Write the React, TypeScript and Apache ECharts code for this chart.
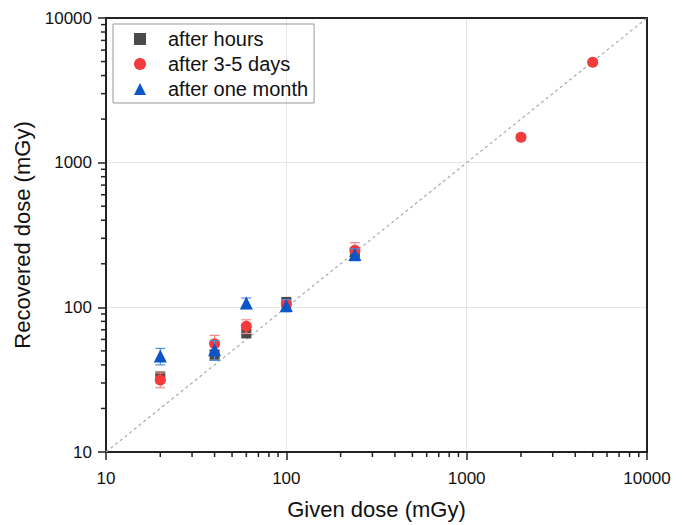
import React, { useEffect, useRef } from "react";
import * as echarts from "echarts";

// ---- data ----
const hoursX = [20, 40, 60, 100, 240];
const hoursY = [33, 47, 66, 109, 240];
const hoursErr = [3, 4, 4, 5, 15];

const daysX = [20, 40, 60, 100, 240, 2000, 5000];
const daysY = [31.5, 56, 74, 105, 248, 1500, 4950];
const daysErr = [3.7, 8, 8, 6, 32, 60, 150];

const monthX = [20, 40, 60, 100, 240];
const monthY = [46, 51, 107, 103, 232];
const monthErr = [6, 8, 9, 10, 22];

const minorTicks = [
  20, 30, 40, 50, 60, 70, 80, 90,
  200, 300, 400, 500, 600, 700, 800, 900,
  2000, 3000, 4000, 5000, 6000, 7000, 8000, 9000,
];

const seriesNames = ["after hours", "after 3-5 days", "after one month"];

const FONT = "'Liberation Sans', Arial, sans-serif";
const AXIS_MIN = 10;

function zip3(xs: number[], ys: number[], es: number[]) {
  return xs.map((x, i) => [x, ys[i], es[i]]);
}

function errorBar(color: string, data: number[][], z: number) {
  return {
    type: "custom",
    z,
    silent: true,
    data,
    encode: { x: 0, y: 1 },
    renderItem: (params: any, api: any) => {
      const x = api.value(0);
      const y = api.value(1);
      const e = api.value(2);
      const top = api.coord([x, y + e]);
      const bot = api.coord([x, y - e]);
      const w = 5;
      const st = { stroke: color, lineWidth: 1.2 };
      return {
        type: "group",
        children: [
          { type: "line", shape: { x1: top[0], y1: top[1], x2: bot[0], y2: bot[1] }, style: st },
          { type: "line", shape: { x1: top[0] - w, y1: top[1], x2: top[0] + w, y2: top[1] }, style: st },
          { type: "line", shape: { x1: bot[0] - w, y1: bot[1], x2: bot[0] + w, y2: bot[1] }, style: st },
        ],
      };
    },
  };
}

// minor ticks (outward) on the bottom and left axes, placed through the axis scales
function minorTickSeries(color: string) {
  return {
    type: "custom",
    z: 10,
    clip: false,
    data: minorTicks.map((v) => [v, v]),
    encode: { x: 0, y: 1 },
    renderItem: (params: any, api: any) => {
      const v = api.value(0);
      const px = api.coord([v, AXIS_MIN]);
      const py = api.coord([AXIS_MIN, v]);
      const L = 5;
      const st = { stroke: color, lineWidth: 1.5 };
      return {
        type: "group",
        children: [
          { type: "line", shape: { x1: px[0], y1: px[1], x2: px[0], y2: px[1] + L }, style: st },
          { type: "line", shape: { x1: py[0], y1: py[1], x2: py[0] - L, y2: py[1] }, style: st },
        ],
      };
    },
  };
}

export default function App() {
  const ref = useRef<HTMLDivElement>(null);
  useEffect(() => {
    if (!ref.current) return;
    const chart = echarts.init(ref.current, undefined, { renderer: "svg" });
    const axisColor = "#222";
    const tickLabel = {
      color: "#111",
      fontSize: 17,
      fontFamily: FONT,
      formatter: (v: number) => String(Math.round(v)),
    };
    const mainAxis = {
      type: "log",
      logBase: 10,
      min: 10,
      max: 10000,
      axisLine: { show: true, lineStyle: { color: axisColor, width: 2 } },
      axisTick: { show: true, inside: false, length: 8, lineStyle: { color: axisColor, width: 1.5 } },
      minorTick: { show: false },
      splitLine: { show: true, lineStyle: { color: "#e6e6e6", width: 1 } },
      nameLocation: "middle",
      nameTextStyle: { color: "#111", fontSize: 22, fontFamily: FONT },
    };
    const borderAxis = {
      type: "log",
      logBase: 10,
      min: 10,
      max: 10000,
      axisLine: { show: true, lineStyle: { color: axisColor, width: 2 } },
      axisTick: { show: false },
      minorTick: { show: false },
      axisLabel: { show: false },
      splitLine: { show: false },
    };
    chart.setOption({
      animation: false,
      grid: { left: 106, right: 42, top: 18, bottom: 72 },
      xAxis: [
        { ...mainAxis, position: "bottom", name: "Given dose (mGy)", nameGap: 46, axisLabel: { ...tickLabel, margin: 18 } },
        { ...borderAxis, position: "top" },
      ],
      yAxis: [
        { ...mainAxis, position: "left", name: "Recovered dose (mGy)", nameGap: 72, axisLabel: { ...tickLabel, margin: 14 } },
        { ...borderAxis, position: "right" },
      ],
      legend: {
        left: 113,
        top: 24,
        orient: "vertical",
        borderColor: "#999",
        borderWidth: 1,
        padding: [5, 6, 4, 21],
        itemGap: 5,
        itemWidth: 12,
        itemHeight: 12,
        textStyle: { color: "#111", fontSize: 20, fontFamily: FONT, padding: [0, 0, 0, 17] },
        data: [
          { name: seriesNames[0], icon: "rect" },
          { name: seriesNames[1], icon: "circle" },
          { name: seriesNames[2], icon: "triangle" },
        ],
      },
      series: [
        {
          type: "line",
          data: [[10, 10], [10000, 10000]],
          symbol: "none",
          silent: true,
          z: 1,
          lineStyle: { color: "#aaa", width: 1.2, type: [3, 3] },
        },
        minorTickSeries(axisColor),
        errorBar("#9a9a9a", zip3(hoursX, hoursY, hoursErr), 2),
        {
          name: seriesNames[0],
          type: "scatter",
          symbol: "rect",
          symbolSize: 10,
          z: 3,
          itemStyle: { color: "#4a4a4a", opacity: 1 },
          data: hoursX.map((x, i) => [x, hoursY[i]]),
        },
        errorBar("#f58a8a", zip3(daysX, daysY, daysErr), 4),
        {
          name: seriesNames[1],
          type: "scatter",
          symbol: "circle",
          symbolSize: 11,
          z: 5,
          itemStyle: { color: "#f43a3a", opacity: 1 },
          data: daysX.map((x, i) => [x, daysY[i]]),
        },
        errorBar("#4f8fe0", zip3(monthX, monthY, monthErr), 6),
        {
          name: seriesNames[2],
          type: "scatter",
          symbol: "triangle",
          symbolSize: 13,
          z: 7,
          itemStyle: { color: "#0a55c8", opacity: 1 },
          data: monthX.map((x, i) => [x, monthY[i]]),
        },
      ],
    });
    return () => chart.dispose();
  }, []);
  return (
    <div
      ref={ref}
      style={{ position: "absolute", left: 0, top: 0, width: 689, height: 525, background: "#fff" }}
    />
  );
}
